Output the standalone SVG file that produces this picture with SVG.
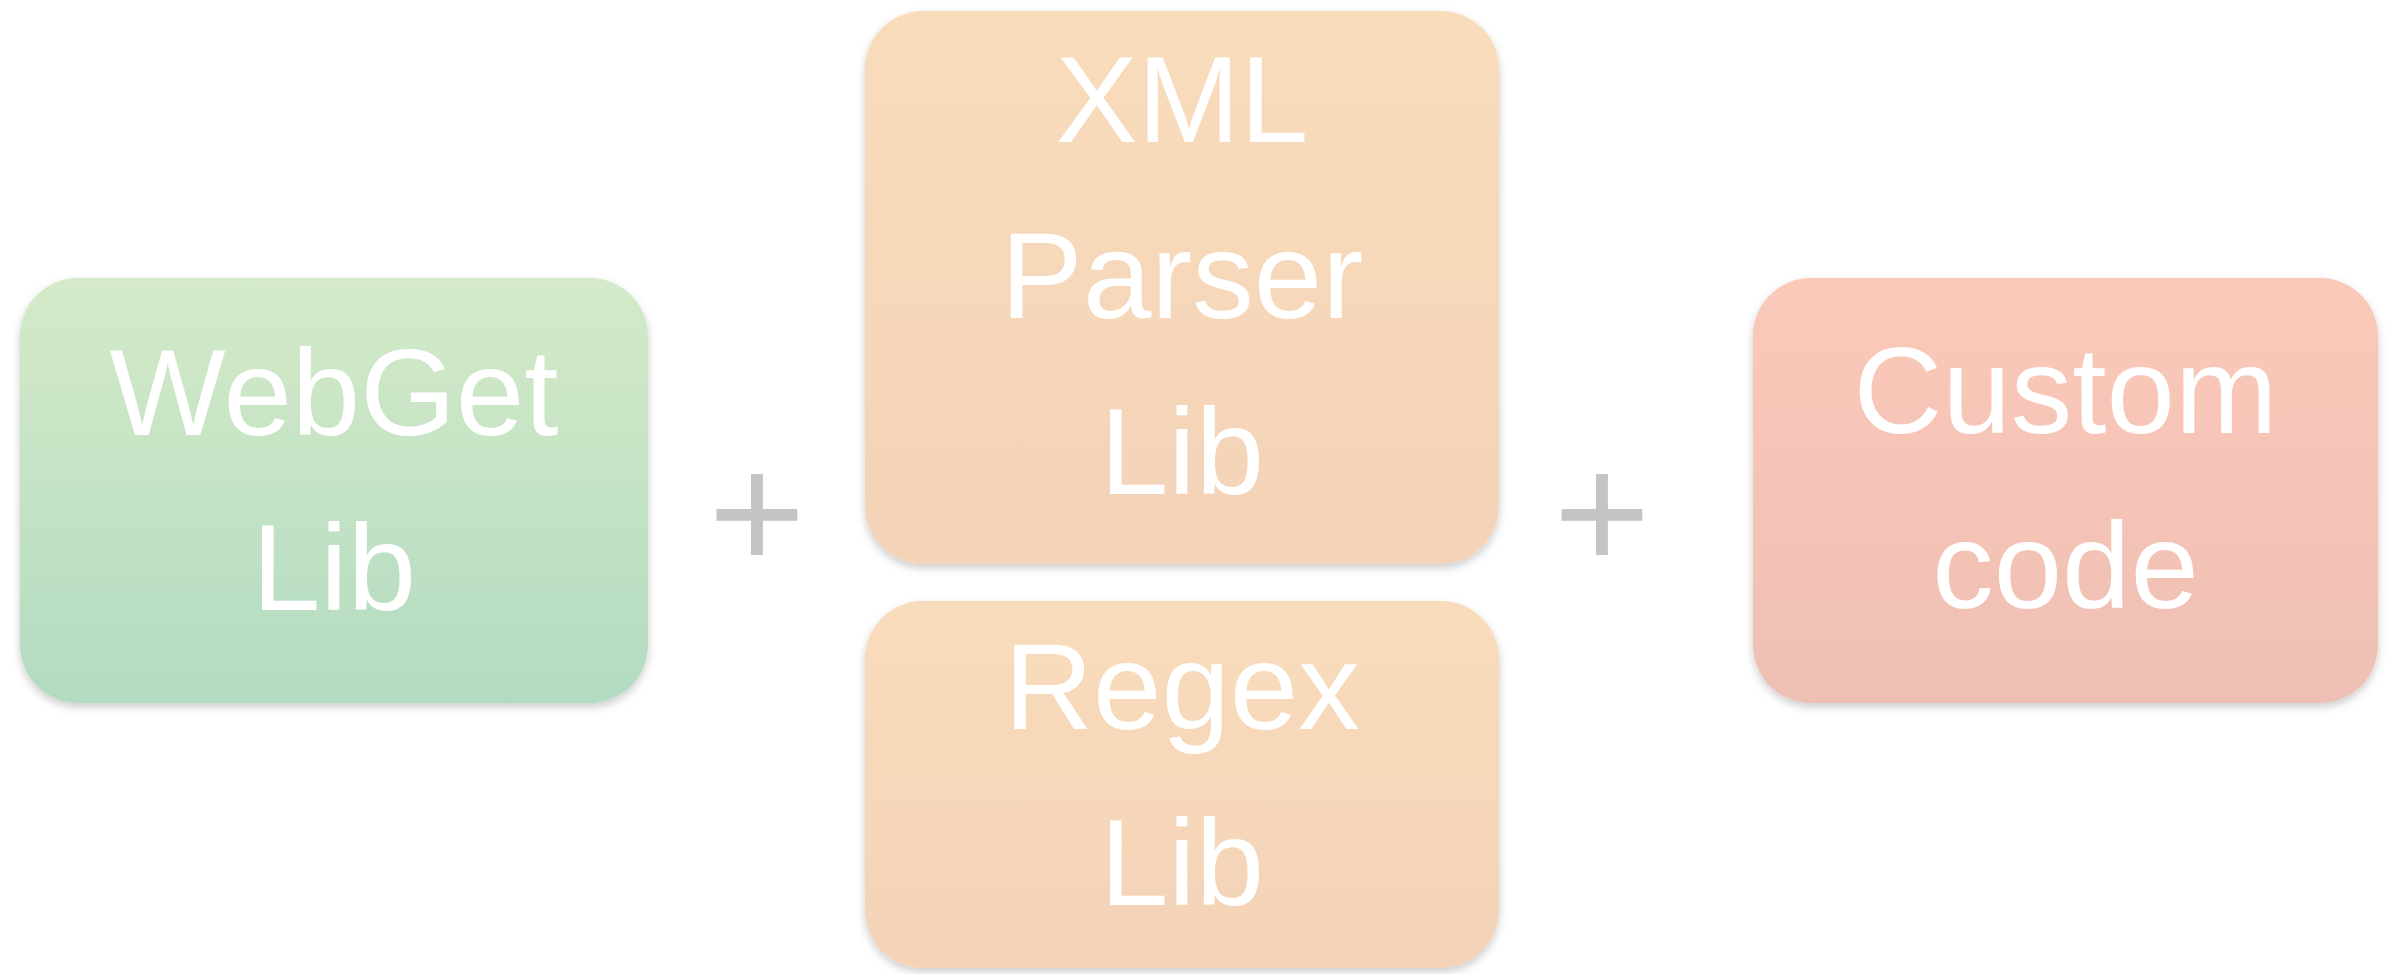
<svg xmlns="http://www.w3.org/2000/svg" width="2397" height="974" viewBox="0 0 2397 974">
<defs>
<linearGradient id="gGreen" x1="0" y1="0" x2="0" y2="1"><stop offset="0" stop-color="#d4eac8"/><stop offset="1" stop-color="#b3dbc1"/></linearGradient>
<linearGradient id="gOrange" x1="0" y1="0" x2="0" y2="1"><stop offset="0" stop-color="#f8dcbb"/><stop offset="1" stop-color="#f4d3b8"/></linearGradient>
<linearGradient id="gRed" x1="0" y1="0" x2="0" y2="1"><stop offset="0" stop-color="#fbc9b9"/><stop offset="1" stop-color="#eebfb4"/></linearGradient>
<filter id="shadow" x="-10%" y="-10%" width="120%" height="125%"><feDropShadow dx="0" dy="4" stdDeviation="4" flood-color="#000" flood-opacity="0.2"/></filter>
<style>
.box{filter:url(#shadow);}
.lbl{font-family:"Liberation Sans",Arial,Helvetica,sans-serif;font-size:123px;fill:#ffffff;text-anchor:middle;}
.plus{font-family:"Liberation Sans",Arial,sans-serif;font-size:166px;fill:#c4c4c4;text-anchor:middle;}
</style>
</defs>
<rect width="2397" height="974" fill="#ffffff"/>
<g id="webget">
<rect class="box" x="20" y="278" width="628" height="425" rx="58" ry="58" fill="url(#gGreen)"/>
<text class="lbl" x="334" y="435">WebGet</text>
<text class="lbl" x="334" y="610">Lib</text>
</g>
<g id="xmlparser">
<rect class="box" x="865" y="11" width="634" height="553" rx="58" ry="58" fill="url(#gOrange)"/>
<text class="lbl" x="1182" y="142">XML</text>
<text class="lbl" x="1182" y="318">Parser</text>
<text class="lbl" x="1182" y="494">Lib</text>
</g>
<g id="regex">
<rect class="box" x="865" y="601" width="634" height="367" rx="58" ry="58" fill="url(#gOrange)"/>
<text class="lbl" x="1182" y="729">Regex</text>
<text class="lbl" x="1182" y="905">Lib</text>
</g>
<g id="custom">
<rect class="box" x="1753" y="278" width="625" height="425" rx="58" ry="58" fill="url(#gRed)"/>
<text class="lbl" x="2065.5" y="433">Custom</text>
<text class="lbl" x="2065.5" y="608">code</text>
</g>
<g id="connectors">
<text class="plus" x="757" y="570">+</text>
<text class="plus" x="1602" y="570">+</text>
</g>
</svg>
